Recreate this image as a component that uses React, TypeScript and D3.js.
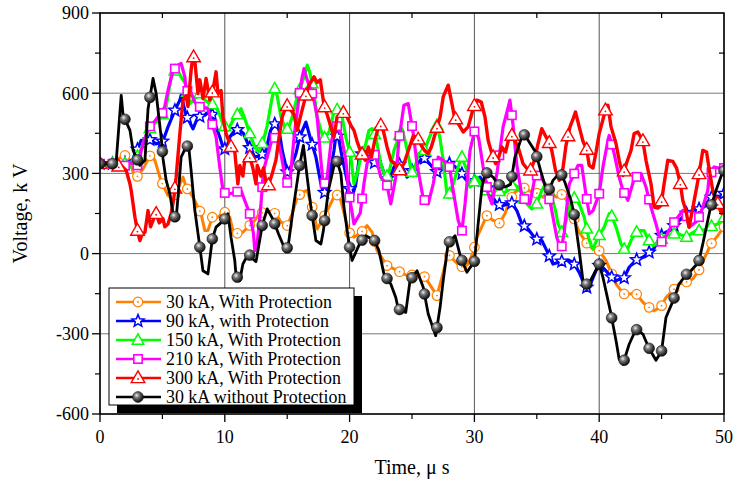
import React from 'react';
import * as d3 from 'd3';

type P = [number, number];

const timeTicks = [0, 10, 20, 30, 40, 50];
const voltTicks = [-600, -300, 0, 300, 600, 900];
const timeMinor = [5, 15, 25, 35, 45];
const voltMinor = [-450, -150, 150, 450, 750];

const seriesNames = [
  '30 kA, With Protection',
  '90 kA, with Protection',
  '150 kA, With Protection',
  '210 kA, With Protection',
  '300 kA, With Protection',
  '30 kA without Protection',
];
const seriesColors = ['#FF8000', '#0000FF', '#00FF00', '#FF00FF', '#FF0000', '#000000'];
const seriesMarkers = ['circle', 'star', 'triangle', 'square', 'bigTriangle', 'ball'];
const markerSpacing = [1, 1, 1, 1, 1.5, 1];

const orange30: P[] = [[0,336],[1.2,336],[1.45,355],[2.0,367],[2.4,349],[2.65,305],[3.0,289],[3.45,317],[4.06,371],[4.4,349],[4.86,276],[5.45,217],[5.85,205],[6.2,240],[6.65,286],[6.9,249],[7.45,211],[7.85,174],[8.1,149],[8.4,86],[8.65,86],[9.0,136],[9.45,136],[9.93,158],[10.4,136],[10.65,86],[11.0,76],[11.45,80],[11.7,92],[12.4,124],[12.75,149],[13.4,161],[14.1,149],[14.5,118],[15.0,105],[15.4,149],[15.8,211],[16.2,230],[16.6,236],[17.0,174],[17.4,92],[17.8,124],[18.35,174],[18.9,226],[19.3,199],[19.7,124],[19.95,80],[20.35,61],[20.95,80],[21.4,105],[21.8,80],[22.2,11],[23.0,-45],[23.55,-57],[24.1,-70],[24.6,-82],[25.0,-80],[26.0,-86],[26.4,-114],[27.0,-157],[27.4,-89],[27.8,-14],[28.0,-7],[28.9,-51],[29.5,-39],[29.9,5],[30.2,61],[31.0,142],[31.5,124],[32.0,114],[32.45,149],[32.85,199],[33.25,230],[33.9,249],[34.3,236],[35.0,226],[35.5,211],[36.0,224],[36.6,211],[37.0,221],[37.4,200],[37.9,142],[38.4,80],[39.0,39],[39.5,17],[40.0,11],[40.55,-26],[40.95,-70],[41.35,-114],[41.96,-151],[42.4,-151],[42.95,-149],[43.5,-182],[44.0,-201],[44.4,-214],[44.95,-199],[45.35,-164],[45.94,-136],[46.4,-114],[46.96,-107],[47.5,-95],[47.97,-64],[48.4,-20],[48.96,36],[49.5,67],[50,100]];

const blue90: P[] = [[0,336],[2.0,336],[2.6,350],[3.0,390],[3.3,424],[4.06,426],[4.5,410],[5.05,421],[5.45,474],[6.0,536],[6.4,574],[6.5,592],[6.9,518],[7.45,467],[7.85,511],[8.4,518],[8.9,536],[9.3,474],[9.6,436],[9.85,399],[10.1,386],[10.4,436],[10.8,461],[11.1,464],[11.5,449],[11.85,411],[12.1,386],[12.4,361],[12.9,367],[13.3,386],[13.67,461],[14.1,492],[14.35,461],[14.6,386],[15.0,305],[15.35,330],[15.7,374],[16.0,436],[16.5,492],[16.9,424],[17.3,361],[17.7,261],[17.95,221],[18.35,280],[18.75,386],[18.9,442],[19.1,436],[19.4,361],[19.8,274],[20.2,211],[20.5,261],[20.75,349],[21.15,386],[21.5,360],[21.9,330],[22.2,361],[22.5,336],[22.9,280],[23.2,280],[23.56,324],[24.1,336],[24.6,286],[24.84,299],[25.3,330],[25.9,361],[26.3,342],[26.98,305],[27.4,324],[27.8,342],[28.3,330],[28.85,311],[29.25,280],[29.65,261],[30.05,274],[30.45,286],[30.95,249],[31.84,184],[32.3,180],[33.0,189],[33.4,161],[33.8,111],[34.3,92],[34.9,55],[35.4,49],[35.8,11],[36.3,-39],[37.0,-29],[37.5,-24],[37.9,-32],[38.4,-70],[38.8,-114],[38.94,-129],[39.3,-114],[39.74,-64],[40.0,-45],[40.4,-57],[40.95,-86],[41.35,-101],[42.0,-91],[42.4,-51],[42.95,-24],[43.5,-14],[44.0,5],[44.4,20],[44.8,55],[45.1,74],[45.6,86],[46.15,111],[46.55,130],[47.1,155],[47.5,161],[48.0,167],[48.5,180],[48.96,211],[49.3,205],[49.76,217],[50,225]];

const green150: P[] = [[0,336],[2.3,336],[2.8,349],[3.2,380],[3.85,461],[4.5,492],[4.9,511],[5.3,549],[5.7,661],[6.1,692],[6.5,661],[6.85,636],[7.2,561],[7.6,580],[8.0,599],[8.4,574],[8.8,561],[9.2,555],[9.5,530],[9.85,486],[10.25,461],[10.65,499],[11.0,520],[11.3,542],[11.6,505],[12.0,449],[12.4,399],[12.7,380],[13.1,424],[13.4,480],[13.8,586],[14.0,617],[14.2,590],[14.5,511],[14.9,461],[15.1,470],[15.4,511],[15.8,586],[16.35,661],[16.6,705],[16.8,680],[17.0,636],[17.2,580],[17.4,511],[17.7,461],[17.95,430],[18.35,455],[18.75,530],[19.1,542],[19.4,511],[19.7,436],[20.1,361],[20.35,261],[20.6,299],[20.9,361],[21.3,411],[21.55,461],[21.8,467],[22.1,436],[22.5,336],[22.9,280],[23.2,311],[23.56,386],[23.9,430],[24.2,467],[24.5,411],[24.9,320],[25.1,290],[25.5,374],[26.0,386],[26.3,424],[26.7,467],[27.0,480],[27.25,430],[27.5,349],[27.8,224],[27.9,211],[28.3,261],[28.7,324],[29.0,361],[29.4,311],[29.65,249],[29.9,261],[30.2,286],[30.6,255],[31.0,236],[31.5,224],[31.9,236],[32.3,224],[32.7,236],[33.1,261],[33.5,249],[33.8,224],[34.2,186],[34.6,167],[35.0,186],[35.4,236],[35.7,261],[36.1,224],[36.5,161],[36.7,111],[37.0,80],[37.4,130],[37.74,199],[38.1,211],[38.5,174],[38.8,136],[39.2,49],[39.5,17],[39.9,61],[40.4,99],[40.8,149],[41.0,140],[41.35,99],[41.75,36],[42.15,5],[42.55,49],[42.95,80],[43.3,86],[43.6,86],[43.9,55],[44.3,30],[44.7,36],[45.1,61],[45.5,70],[45.8,67],[46.15,80],[46.55,70],[46.96,61],[47.35,74],[47.76,86],[48.2,86],[48.6,92],[49.1,105],[49.5,111],[49.9,130],[50,135]];

const magenta210: P[] = [[0,336],[1.5,336],[1.85,325],[2.4,340],[3.0,330],[3.45,411],[3.9,471],[4.3,490],[4.65,511],[5.1,530],[5.45,611],[5.85,684],[6.25,705],[6.5,711],[6.8,661],[6.9,611],[7.3,600],[7.6,567],[7.85,549],[8.25,549],[8.65,542],[8.9,499],[9.3,436],[9.6,324],[9.85,236],[10.1,221],[10.4,224],[10.9,230],[11.3,236],[11.7,186],[12.0,149],[12.3,74],[12.4,11],[12.6,40],[12.9,186],[13.1,311],[13.8,430],[14.2,436],[14.5,374],[14.9,267],[15.2,261],[15.55,436],[15.95,586],[16.2,661],[16.35,692],[16.6,650],[17.1,586],[17.4,511],[17.7,349],[17.9,251],[18.2,286],[18.5,411],[18.9,486],[19.3,449],[19.7,349],[19.95,224],[20.35,111],[20.85,151],[21.15,261],[21.4,336],[21.8,386],[22.1,361],[22.5,286],[23.0,255],[23.3,186],[23.7,286],[23.95,424],[24.35,555],[24.7,561],[25.1,449],[25.4,336],[25.9,205],[26.3,186],[26.7,261],[27.1,361],[27.5,350],[28.0,324],[28.3,236],[28.7,124],[29.0,86],[29.25,186],[29.65,386],[30.05,467],[30.35,430],[30.7,324],[31.1,224],[31.4,186],[31.84,311],[32.3,474],[32.85,574],[33.1,480],[33.4,330],[33.8,218],[34.2,190],[34.45,186],[34.85,286],[35.2,300],[35.7,255],[36.1,186],[36.6,61],[36.95,14],[37.2,80],[37.4,174],[37.6,260],[37.9,289],[38.3,330],[38.6,330],[38.94,221],[39.2,149],[39.5,160],[40.0,224],[40.3,324],[40.7,424],[40.8,442],[41.2,374],[41.6,286],[41.9,236],[42.3,199],[42.8,280],[43.35,299],[43.75,249],[44.15,174],[44.55,111],[44.95,42],[45.3,60],[45.8,105],[46.3,136],[46.7,161],[46.95,150],[47.2,99],[47.9,124],[48.3,174],[48.7,236],[48.8,284],[49.2,324],[49.6,320],[50,320]];

const red300: P[] = [[0,336],[1.2,336],[1.45,325],[1.7,330],[2.1,311],[2.4,261],[2.5,236],[2.8,136],[3.0,86],[3.2,49],[3.35,70],[3.6,80],[3.85,161],[4.05,100],[4.3,130],[4.5,149],[4.75,115],[5.05,130],[5.2,100],[5.45,111],[5.7,149],[5.9,202],[6.1,286],[6.4,449],[6.65,574],[6.9,590],[7.05,550],[7.3,686],[7.45,742],[7.6,720],[7.85,599],[8.0,650],[8.25,580],[8.5,655],[8.8,574],[9.05,611],[9.3,680],[9.45,599],[9.7,610],[9.85,511],[10.1,449],[10.5,399],[10.8,380],[11.05,261],[11.2,330],[11.45,290],[11.6,350],[12.0,361],[12.25,320],[12.5,261],[12.6,330],[12.9,290],[13.1,320],[13.4,242],[13.8,299],[14.1,350],[14.35,436],[14.6,511],[14.95,555],[15.3,536],[15.55,520],[15.8,461],[16.1,520],[16.5,592],[16.75,630],[17.15,661],[17.4,640],[17.65,650],[17.95,555],[18.2,520],[18.5,474],[18.75,436],[19.0,511],[19.4,530],[19.7,520],[20.1,480],[20.35,461],[20.6,420],[20.9,380],[21.25,349],[21.5,399],[21.75,361],[22.0,420],[22.4,489],[22.7,460],[23.0,399],[23.3,349],[23.6,336],[23.95,309],[24.35,336],[24.8,399],[25.1,440],[25.4,436],[25.8,400],[26.0,386],[26.3,374],[26.55,399],[26.9,455],[27.25,511],[27.5,586],[27.9,630],[28.2,561],[28.4,511],[28.7,486],[29.1,455],[29.5,474],[29.9,542],[30.2,574],[30.55,567],[30.85,511],[31.1,424],[31.4,374],[31.7,336],[31.95,361],[32.2,399],[32.5,380],[32.85,449],[33.1,436],[33.5,399],[33.9,336],[34.45,305],[34.8,349],[35.1,411],[35.4,467],[35.7,440],[36.0,414],[36.2,386],[36.5,311],[36.8,274],[37.1,320],[37.34,405],[37.66,474],[37.87,499],[38.1,530],[38.4,474],[38.7,420],[39.0,389],[39.2,330],[39.5,320],[39.75,380],[40.0,449],[40.5,536],[40.7,555],[40.95,474],[41.35,411],[41.6,349],[41.9,292],[42.2,340],[42.55,386],[42.8,449],[43.1,455],[43.5,421],[43.75,349],[44.15,261],[44.4,174],[44.7,170],[44.95,180],[45.2,261],[45.5,349],[45.9,345],[46.2,320],[46.5,261],[46.7,199],[46.95,160],[47.2,99],[47.5,170],[47.97,289],[48.3,386],[48.6,380],[48.8,320],[49.1,236],[49.5,186],[49.8,150],[50,170]];

const black30: P[] = [[0,336],[1.0,336],[1.3,345],[1.7,592],[1.85,518],[2.4,461],[2.65,386],[2.9,361],[3.2,330],[3.6,349],[3.85,542],[4.25,655],[4.5,599],[4.9,436],[5.05,355],[5.3,274],[5.6,224],[5.85,149],[6.1,130],[6.25,211],[6.5,361],[6.9,399],[7.1,405],[7.3,311],[7.6,161],[7.95,42],[8.25,-64],[8.65,-76],[9.0,55],[9.3,99],[9.95,126],[10.25,149],[10.5,61],[10.8,-26],[10.9,-82],[11.2,-101],[11.45,-39],[11.9,0],[12.25,-20],[12.5,-30],[13.0,105],[13.4,167],[13.9,124],[14.3,74],[14.9,7],[15.1,36],[15.5,174],[15.95,317],[16.3,405],[16.6,286],[16.9,174],[17.3,49],[17.7,36],[17.9,86],[18.3,236],[18.9,360],[19.3,299],[19.55,174],[19.95,36],[20.2,-26],[20.85,42],[21.3,67],[22.0,49],[22.35,11],[22.75,-76],[23.3,-114],[23.7,-164],[23.9,-207],[24.5,-220],[24.84,-101],[25.4,-64],[25.9,-126],[26.3,-226],[26.9,-307],[27.25,-201],[27.5,-101],[27.9,39],[28.45,67],[28.9,-14],[29.4,-70],[30.0,-29],[30.3,111],[30.6,249],[30.9,305],[31.5,286],[31.9,259],[32.45,249],[32.9,259],[33.25,361],[33.9,451],[34.3,424],[34.9,380],[35.3,311],[35.85,224],[36.3,274],[36.9,305],[37.25,267],[37.74,199],[38.0,146],[38.4,11],[38.7,-101],[38.94,-117],[39.3,-101],[40.0,-39],[40.3,-89],[40.9,-216],[41.35,-326],[41.6,-395],[41.9,-414],[42.4,-339],[42.95,-283],[43.5,-301],[43.96,-351],[44.55,-399],[45.0,-364],[45.35,-239],[45.94,-174],[46.4,-114],[46.96,-79],[47.35,-64],[47.97,-32],[48.3,36],[48.88,164],[49.36,236],[49.84,299],[50,310]];

const allSeries = [orange30, blue90, green150, magenta210, red300, black30];

const FONT = '"Liberation Serif", "Times New Roman", serif';

function interp(data: P[], t: number): number {
  const i = d3.bisector((d: P) => d[0]).left(data, t);
  if (i <= 0) return data[0][1];
  if (i >= data.length) return data[data.length - 1][1];
  const a = data[i - 1], b = data[i];
  if (b[0] === a[0]) return b[1];
  return a[1] + ((t - a[0]) / (b[0] - a[0])) * (b[1] - a[1]);
}

function starPath(R: number, r: number): string {
  const pts: string[] = [];
  for (let k = 0; k < 10; k++) {
    const ang = -Math.PI / 2 + (k * Math.PI) / 5;
    const rad = k % 2 === 0 ? R : r;
    pts.push(`${(rad * Math.cos(ang)).toFixed(2)},${(rad * Math.sin(ang)).toFixed(2)}`);
  }
  return 'M' + pts.join('L') + 'Z';
}

function Marker({ kind, color, cx, cy }: { kind: string; color: string; cx: number; cy: number }) {
  const tr = `translate(${cx},${cy})`;
  switch (kind) {
    case 'circle':
      return (
        <g transform={tr}>
          <circle r={4.8} fill="#fff" stroke={color} strokeWidth={1.2} />
          <circle r={0.9} fill={color} />
        </g>
      );
    case 'star':
      return (
        <g transform={tr}>
          <path d={starPath(6.4, 2.8)} fill="#fff" stroke={color} strokeWidth={1.5} />
        </g>
      );
    case 'triangle':
      return (
        <g transform={tr}>
          <path d="M0,-6.2 L5.8,4.2 L-5.8,4.2 Z" fill="#fff" stroke={color} strokeWidth={1.5} />
        </g>
      );
    case 'square':
      return (
        <g transform={tr}>
          <rect x={-4.2} y={-4.2} width={8.4} height={8.4} fill="#fff" stroke={color} strokeWidth={1.6} />
        </g>
      );
    case 'bigTriangle':
      return (
        <g transform={tr}>
          <path d="M0,-7.2 L6.8,4.6 L-6.8,4.6 Z" fill="#fff" stroke={color} strokeWidth={1.4} />
          <circle cy={1} r={0.9} fill={color} />
        </g>
      );
    default:
      return (
        <g transform={tr}>
          <circle r={5.4} fill="url(#ballGrad)" stroke="#111" strokeWidth={0.6} />
        </g>
      );
  }
}

export default function App() {
  const W = 736, H = 486;
  const x = d3.scaleLinear().domain([0, 50]).range([100, 724]);
  const y = d3.scaleLinear().domain([-600, 900]).range([414, 13]);
  const [x0, x1] = x.range();
  const [y0, y1] = y.range();
  const line = d3.line<P>().x(d => x(d[0])).y(d => y(d[1]));

  const lineWidths = [3.0, 3.2, 3.2, 3.2, 3.4, 2.8];

  const legX = 109, legY = 288, legW = 245, legH = 117;

  return (
    <svg width={W} height={H} style={{ position: 'absolute', left: 0, top: 0, background: '#fff' }} fontFamily={FONT}>
      <defs>
        <clipPath id="plotClip">
          <rect x={x0} y={y1} width={x1 - x0} height={y0 - y1} />
        </clipPath>
        <radialGradient id="ballGrad" cx="0.38" cy="0.35" r="0.65">
          <stop offset="0" stopColor="#f0f0f0" />
          <stop offset="0.35" stopColor="#7a7a7a" />
          <stop offset="1" stopColor="#0a0a0a" />
        </radialGradient>
      </defs>
      <rect x={0} y={0} width={W} height={H} fill="#fff" />

      {/* grid */}
      {voltTicks.map(v => (
        <line key={'gy' + v} x1={x0} x2={x1} y1={y(v)} y2={y(v)} stroke="#777" strokeWidth={1} />
      ))}
      {timeTicks.map(t => (
        <line key={'gx' + t} x1={x(t)} x2={x(t)} y1={y1} y2={y0} stroke="#555" strokeWidth={1} />
      ))}

      {/* series */}
      <g clipPath="url(#plotClip)">
        {allSeries.map((data, si) => {
          const step = markerSpacing[si];
          const ts: number[] = d3.range(0, 50 + 1e-6, step);
          return (
            <g key={'s' + si}>
              <path d={line(data) || ''} fill="none" stroke={seriesColors[si]} strokeWidth={lineWidths[si]} strokeLinejoin="round" />
              {ts.map(t => (
                <Marker key={t} kind={seriesMarkers[si]} color={seriesColors[si]} cx={x(t)} cy={y(interp(data, t))} />
              ))}
            </g>
          );
        })}
      </g>

      {/* frame */}
      <rect x={x0} y={y1} width={x1 - x0} height={y0 - y1} fill="none" stroke="#000" strokeWidth={1.5} />

      {/* ticks */}
      {voltTicks.map(v => (
        <line key={'ty' + v} x1={x0 - 8} x2={x0} y1={y(v)} y2={y(v)} stroke="#000" strokeWidth={1.3} />
      ))}
      {voltMinor.map(v => (
        <g key={'tym' + v}>
          <line x1={x0 - 5} x2={x0} y1={y(v)} y2={y(v)} stroke="#000" strokeWidth={1.2} />
          <line x1={x1 - 5} x2={x1} y1={y(v)} y2={y(v)} stroke="#000" strokeWidth={1.2} />
        </g>
      ))}
      {timeTicks.map(t => (
        <line key={'tx' + t} x1={x(t)} x2={x(t)} y1={y0} y2={y0 + 8} stroke="#000" strokeWidth={1.3} />
      ))}
      {timeMinor.map(t => (
        <g key={'txm' + t}>
          <line x1={x(t)} x2={x(t)} y1={y0} y2={y0 + 5} stroke="#000" strokeWidth={1.2} />
          <line x1={x(t)} x2={x(t)} y1={y1} y2={y1 + 5} stroke="#000" strokeWidth={1.2} />
        </g>
      ))}

      {/* tick labels */}
      {voltTicks.map(v => (
        <text key={'ly' + v} x={x0 - 11} y={y(v)} dy="0.35em" textAnchor="end" fontSize={18} fill="#000">
          {v}
        </text>
      ))}
      {timeTicks.map(t => (
        <text key={'lx' + t} x={x(t)} y={y0 + 29} textAnchor="middle" fontSize={18} fill="#000">
          {t}
        </text>
      ))}

      {/* axis titles */}
      <text x={412} y={474} textAnchor="middle" fontSize={20} fill="#000">Time, μ s</text>
      <text transform={`translate(27,${(y0 + y1) / 2}) rotate(-90)`} textAnchor="middle" fontSize={20} fill="#000">
        Voltage, k V
      </text>

      {/* legend */}
      <rect x={legX + 8} y={legY + 8} width={legW} height={legH} fill="#000" />
      <rect x={legX} y={legY} width={legW} height={legH} fill="#fff" stroke="#000" strokeWidth={1} />
      {seriesNames.map((name, i) => {
        const ry = legY + 14 + i * 19;
        return (
          <g key={'leg' + i}>
            <line x1={legX + 7} x2={legX + 52} y1={ry} y2={ry} stroke={seriesColors[i]} strokeWidth={2.4} />
            <Marker kind={seriesMarkers[i]} color={seriesColors[i]} cx={legX + 29} cy={ry} />
            <text x={legX + 57} y={ry} dy="0.33em" fontSize={17.9} fill="#000">{name}</text>
          </g>
        );
      })}
    </svg>
  );
}
